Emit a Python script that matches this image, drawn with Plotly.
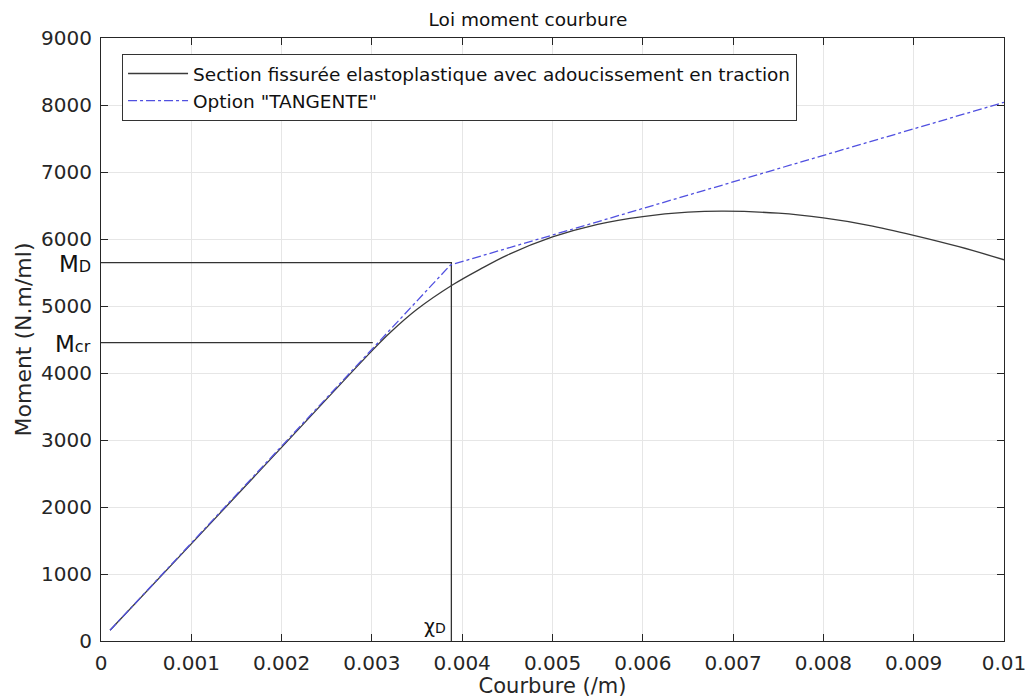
import plotly.graph_objects as go

# Courbe moment-courbure (section fissurée)
courbure = [0.0001, 0.001, 0.002, 0.003, 0.0032, 0.0035, 0.0039, 0.0042, 0.0045,
            0.005, 0.0055, 0.006, 0.0065, 0.0069, 0.0075, 0.008, 0.0085,
            0.009, 0.0095, 0.01]
moment = [160, 1450, 2890, 4330, 4600, 4950, 5320, 5550, 5760,
          6030, 6220, 6335, 6400, 6415, 6385, 6315, 6205,
          6055, 5885, 5690]

# Option "TANGENTE"
courbure_tan = [0.0001, 0.00387, 0.01]
moment_tan = [160, 5612, 8040]

# Repères
chi_D = 0.00388
M_D = 5648
chi_cr = 0.00301
M_cr = 4452

xticks = [0, 0.001, 0.002, 0.003, 0.004, 0.005, 0.006, 0.007, 0.008, 0.009, 0.01]
xticklabels = ["0", "0.001", "0.002", "0.003", "0.004", "0.005", "0.006",
               "0.007", "0.008", "0.009", "0.01"]
yticks = list(range(0, 9001, 1000))

FONT = "DejaVu Sans"
AXC = "#262626"

fig = go.Figure()

# lignes de repère M_D / M_cr / chi_D
fig.add_trace(go.Scatter(x=[0, chi_D, chi_D], y=[M_D, M_D, 0], mode="lines",
                         line=dict(color="#333333", width=1.3), showlegend=False,
                         hoverinfo="skip"))
fig.add_trace(go.Scatter(x=[0, chi_cr], y=[M_cr, M_cr], mode="lines",
                         line=dict(color="#333333", width=1.3), showlegend=False,
                         hoverinfo="skip"))

fig.add_trace(go.Scatter(x=courbure, y=moment, mode="lines", line_shape="spline",
                         name="Section fissurée elastoplastique avec adoucissement en traction",
                         line=dict(color="#3a3a3a", width=1.3)))
fig.add_trace(go.Scatter(x=courbure_tan, y=moment_tan, mode="lines",
                         name='Option "TANGENTE"',
                         line=dict(color="#5050e0", width=1.3, dash="dashdot")))

# indices posés sur la ligne de base, comme dans l'original
fig.add_annotation(x=0, y=M_D, xref="paper", yref="y",
                   text="M<span style='font-size:16px'>D</span>",
                   showarrow=False, xanchor="right", xshift=-8, yshift=-1,
                   font=dict(family=FONT, size=23, color="#111"))
fig.add_annotation(x=0, y=M_cr, xref="paper", yref="y",
                   text="M<span style='font-size:16px'>cr</span>",
                   showarrow=False, xanchor="right", xshift=-8, yshift=-1,
                   font=dict(family=FONT, size=23, color="#111"))
fig.add_annotation(x=chi_D, y=0, xref="x", yref="y",
                   text="χ<span style='font-size:14px'>D</span>",
                   showarrow=False, xanchor="right", yanchor="bottom",
                   xshift=-3, yshift=2,
                   font=dict(family=FONT, size=19, color="#111"))

fig.update_layout(
    width=1028, height=698,
    margin=dict(l=101, r=24, t=38, b=57),
    paper_bgcolor="white", plot_bgcolor="white",
    font=dict(family=FONT, size=20, color=AXC),
    title=dict(text="Loi moment courbure", x=0.5136, xanchor="center",
               y=0.972, yanchor="middle", font=dict(family=FONT, size=18.5, color="#111")),
    xaxis=dict(range=[0, 0.01], tickvals=xticks, ticktext=xticklabels,
               showgrid=True, gridcolor="#e6e6e6", zeroline=False, automargin=False,
               showline=True, linecolor=AXC, linewidth=1, mirror="allticks",
               ticks="inside", ticklen=7, tickcolor=AXC, ticklabelstandoff=4,
               title=dict(text="Courbure (/m)", standoff=3,
                          font=dict(family=FONT, size=21, color=AXC))),
    yaxis=dict(range=[0, 9000], tickvals=yticks,
               showgrid=True, gridcolor="#e6e6e6", zeroline=False, automargin=False,
               showline=True, linecolor=AXC, linewidth=1, mirror="allticks",
               ticks="inside", ticklen=7, tickcolor=AXC, ticklabelstandoff=4,
               title=dict(text="Moment (N.m/ml)", standoff=3,
                          font=dict(family=FONT, size=22, color=AXC))),
    legend=dict(x=0.0233, y=0.9735, xanchor="left", yanchor="top",
                bgcolor="white", bordercolor="#333", borderwidth=1,
                itemwidth=60, tracegroupgap=0,
                font=dict(family=FONT, size=18.5, color="#111")),
    showlegend=True,
)

fig.write_html("out.html", config={"displayModeBar": False},
               post_script="document.body.style.margin='0px';")
